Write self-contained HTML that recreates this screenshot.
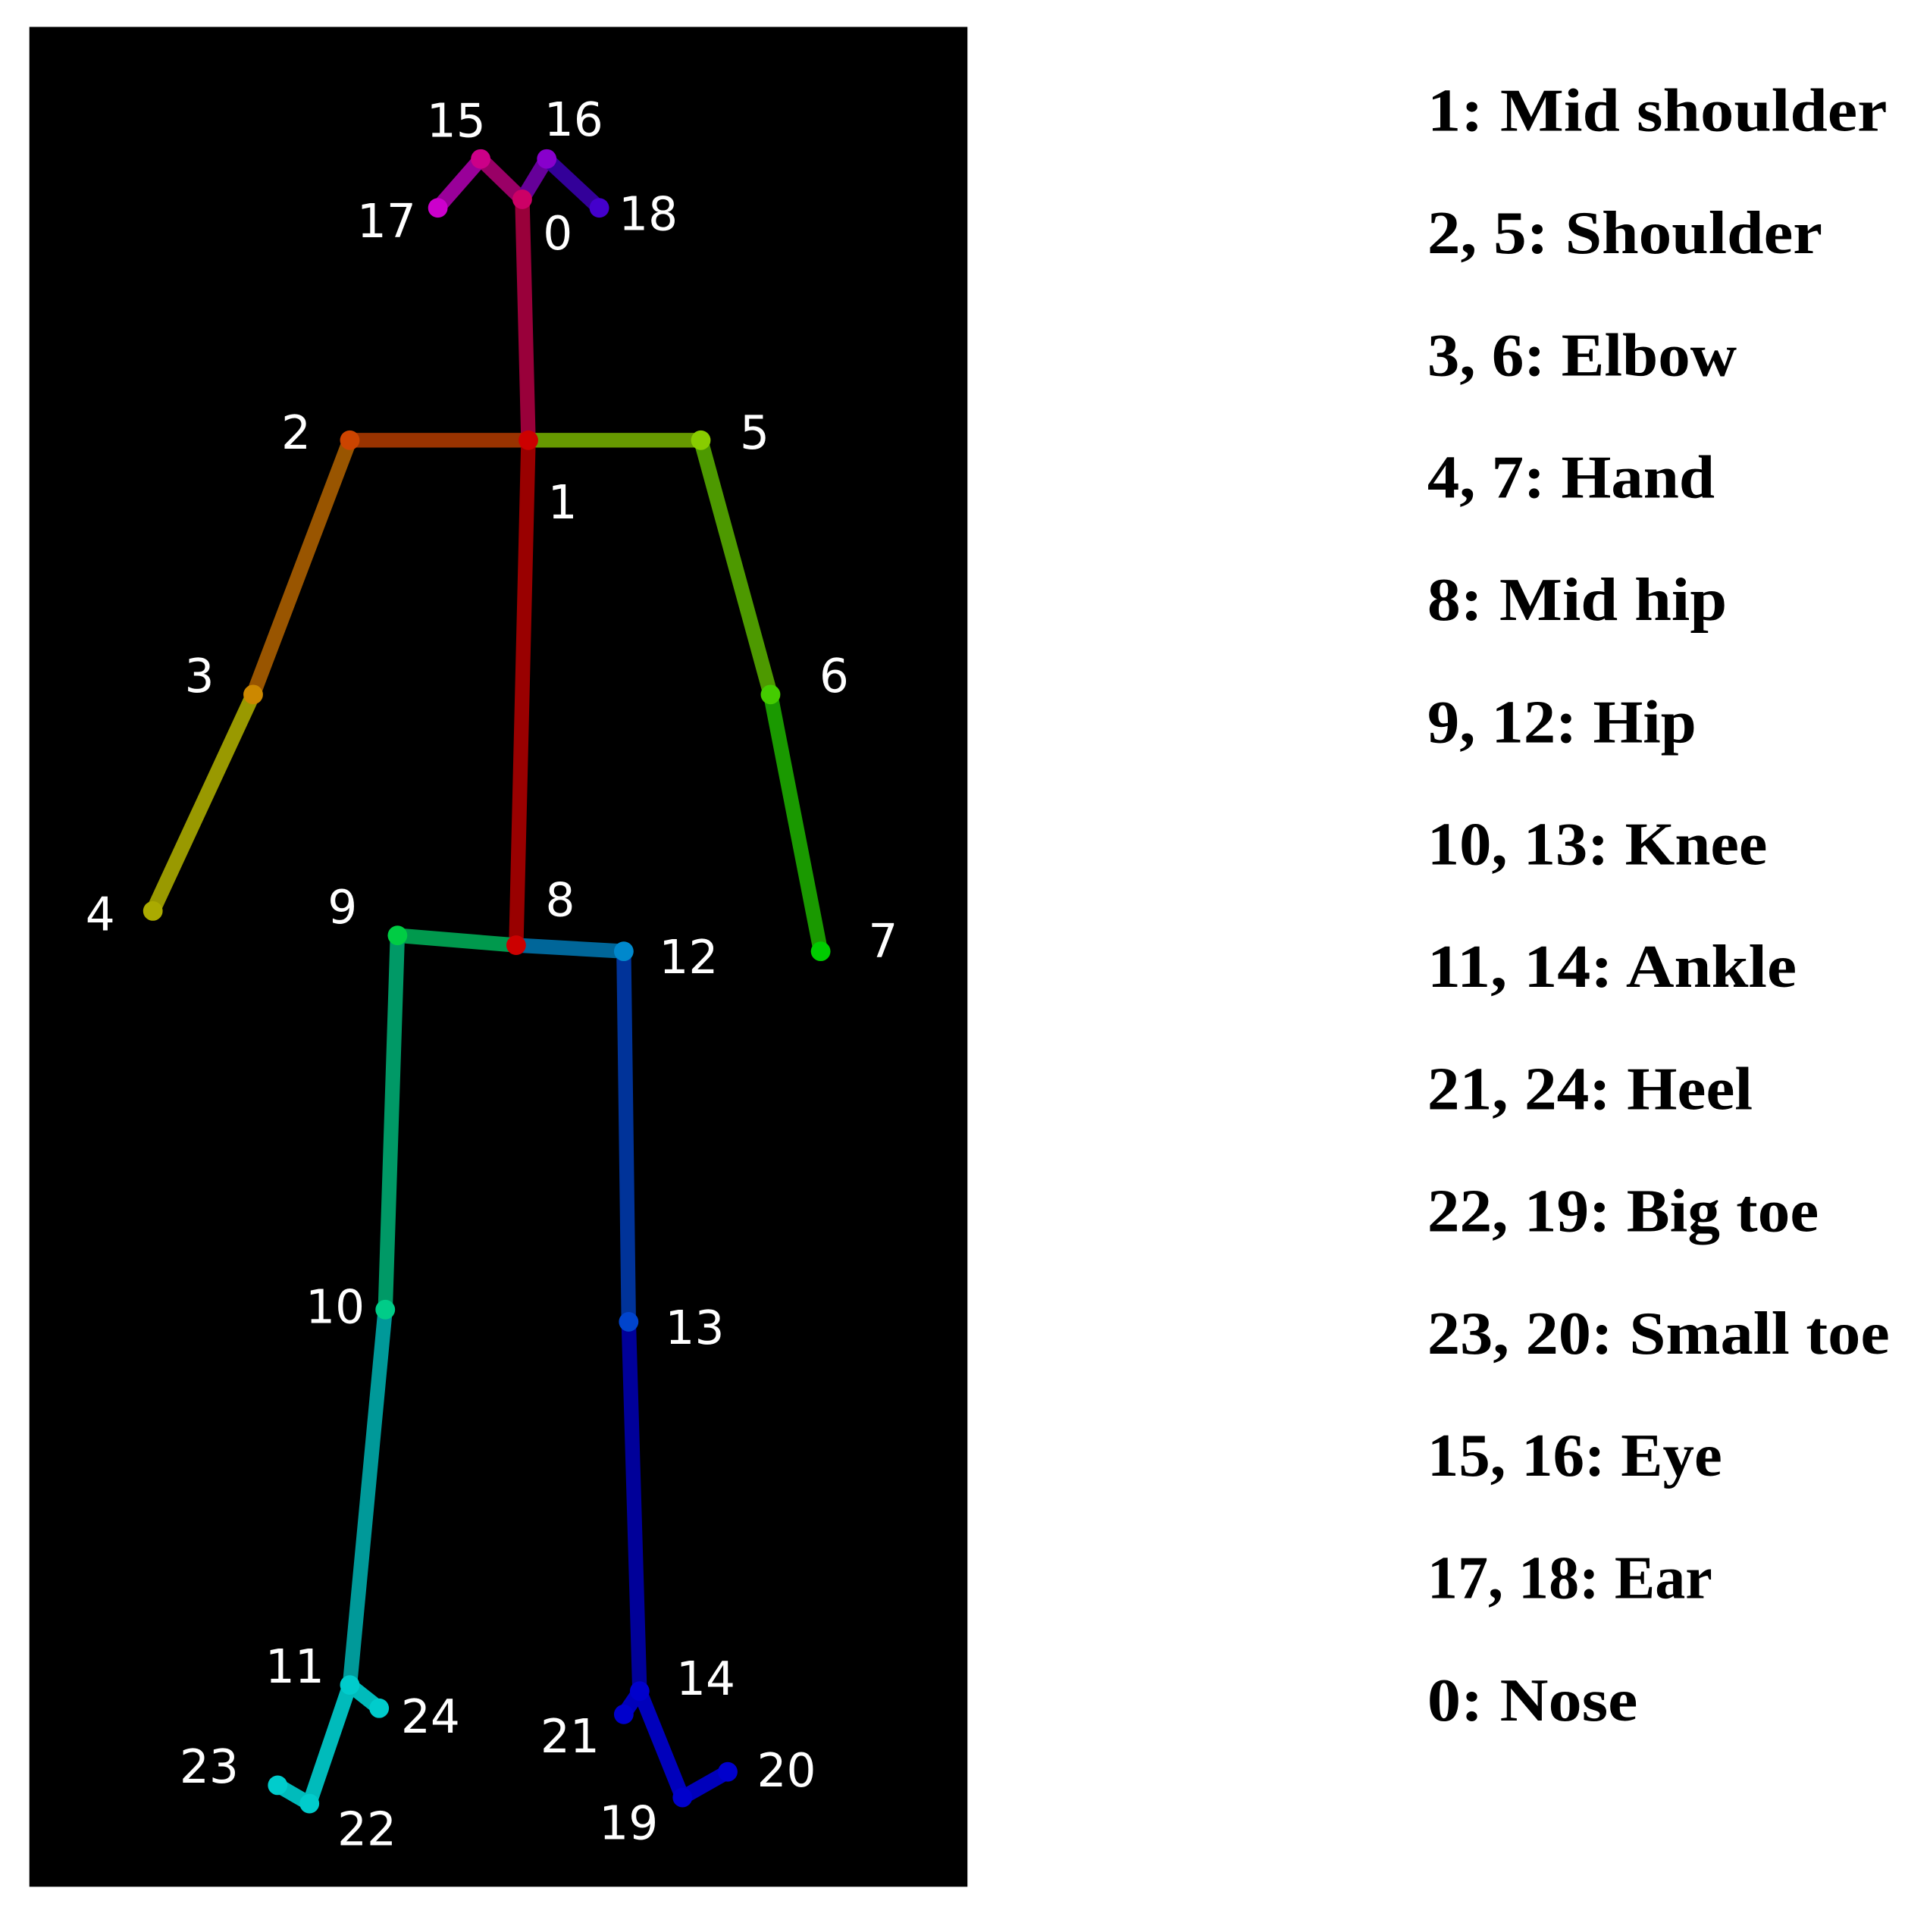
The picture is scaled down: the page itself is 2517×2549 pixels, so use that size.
<!DOCTYPE html>
<html><head><meta charset="utf-8"><style>
html,body{margin:0;padding:0;background:#fff;}
svg{display:block;}
</style></head><body>
<svg width="2517" height="2549" viewBox="0 0 1560 1580" preserveAspectRatio="none" xmlns="http://www.w3.org/2000/svg">
<rect x="0" y="0" width="1560" height="1580" fill="#fff"/>
<rect x="24" y="22" width="767" height="1521" fill="#000"/>
<g stroke-linecap="round" stroke-width="12" fill="none">
<line x1="427" y1="163" x2="432" y2="360" stroke="#99003a"/>
<line x1="432" y1="360" x2="286" y2="360" stroke="#993300"/>
<line x1="286" y1="360" x2="207" y2="568" stroke="#995500"/>
<line x1="207" y1="568" x2="125" y2="745" stroke="#999900"/>
<line x1="432" y1="360" x2="573" y2="360" stroke="#669900"/>
<line x1="573" y1="360" x2="630" y2="568" stroke="#4d9900"/>
<line x1="630" y1="568" x2="671" y2="778" stroke="#1a9900"/>
<line x1="432" y1="360" x2="422" y2="773" stroke="#990000"/>
<line x1="422" y1="773" x2="325" y2="765" stroke="#00994d"/>
<line x1="325" y1="765" x2="315" y2="1071" stroke="#009966"/>
<line x1="315" y1="1071" x2="286" y2="1378" stroke="#009999"/>
<line x1="422" y1="773" x2="510" y2="778" stroke="#006699"/>
<line x1="510" y1="778" x2="514" y2="1081" stroke="#003399"/>
<line x1="514" y1="1081" x2="523" y2="1383" stroke="#000099"/>
<line x1="427" y1="163" x2="393" y2="130" stroke="#990066"/>
<line x1="393" y1="130" x2="358" y2="170" stroke="#990099"/>
<line x1="427" y1="163" x2="447" y2="130" stroke="#660099"/>
<line x1="447" y1="130" x2="490" y2="170" stroke="#330099"/>
<line x1="523" y1="1383" x2="558" y2="1470" stroke="#0000bb"/>
<line x1="558" y1="1470" x2="595" y2="1449" stroke="#0000bb"/>
<line x1="523" y1="1383" x2="510" y2="1402" stroke="#0000bb"/>
<line x1="286" y1="1378" x2="253" y2="1475" stroke="#00bbbb"/>
<line x1="253" y1="1475" x2="227" y2="1460" stroke="#00bbbb"/>
<line x1="286" y1="1378" x2="310" y2="1397" stroke="#00bbbb"/>
</g>
<g>
<circle cx="427" cy="163" r="8" fill="#cc0066"/>
<circle cx="432" cy="360" r="8" fill="#cc0000"/>
<circle cx="286" cy="360" r="8" fill="#cc4400"/>
<circle cx="207" cy="568" r="8" fill="#cc8800"/>
<circle cx="125" cy="745" r="8" fill="#aaaa00"/>
<circle cx="573" cy="360" r="8" fill="#88cc00"/>
<circle cx="630" cy="568" r="8" fill="#44cc00"/>
<circle cx="671" cy="778" r="8" fill="#00cc00"/>
<circle cx="422" cy="773" r="8" fill="#cc0000"/>
<circle cx="325" cy="765" r="8" fill="#00cc44"/>
<circle cx="315" cy="1071" r="8" fill="#00cc88"/>
<circle cx="286" cy="1378" r="8" fill="#00cccc"/>
<circle cx="510" cy="778" r="8" fill="#0088cc"/>
<circle cx="514" cy="1081" r="8" fill="#0044cc"/>
<circle cx="523" cy="1383" r="8" fill="#0000cc"/>
<circle cx="393" cy="130" r="8" fill="#cc0088"/>
<circle cx="447" cy="130" r="8" fill="#8800cc"/>
<circle cx="358" cy="170" r="8" fill="#cc00cc"/>
<circle cx="490" cy="170" r="8" fill="#4400cc"/>
<circle cx="558" cy="1470" r="8" fill="#0000cc"/>
<circle cx="595" cy="1449" r="8" fill="#0000cc"/>
<circle cx="510" cy="1402" r="8" fill="#0000cc"/>
<circle cx="253" cy="1475" r="8" fill="#00cccc"/>
<circle cx="227" cy="1460" r="8" fill="#00cccc"/>
<circle cx="310" cy="1397" r="8" fill="#00cccc"/>
</g>
<g fill="#fff" font-family="DejaVu Sans, sans-serif" font-size="38" text-anchor="middle">
<text x="373" y="112">15</text>
<text x="469" y="111">16</text>
<text x="316" y="194">17</text>
<text x="456" y="204">0</text>
<text x="530" y="188">18</text>
<text x="242" y="367">2</text>
<text x="617" y="367">5</text>
<text x="460" y="424">1</text>
<text x="163" y="566">3</text>
<text x="682" y="566">6</text>
<text x="82" y="761">4</text>
<text x="280" y="755">9</text>
<text x="458" y="749">8</text>
<text x="563" y="796">12</text>
<text x="722" y="783">7</text>
<text x="274" y="1082">10</text>
<text x="568" y="1099">13</text>
<text x="241" y="1376">11</text>
<text x="352" y="1417">24</text>
<text x="577" y="1386">14</text>
<text x="466" y="1433">21</text>
<text x="171" y="1458">23</text>
<text x="300" y="1509">22</text>
<text x="643" y="1461">20</text>
<text x="514" y="1504">19</text>
</g>
<g fill="#000" font-family="Liberation Serif, serif" font-weight="bold" font-size="50" lengthAdjust="spacingAndGlyphs">
<text x="1167" y="107" textLength="376" lengthAdjust="spacingAndGlyphs">1: Mid shoulder</text>
<text x="1167" y="207" textLength="323" lengthAdjust="spacingAndGlyphs">2, 5: Shoulder</text>
<text x="1167" y="307" textLength="253" lengthAdjust="spacingAndGlyphs">3, 6: Elbow</text>
<text x="1167" y="407" textLength="235" lengthAdjust="spacingAndGlyphs">4, 7: Hand</text>
<text x="1167" y="507" textLength="245" lengthAdjust="spacingAndGlyphs">8: Mid hip</text>
<text x="1167" y="607" textLength="220" lengthAdjust="spacingAndGlyphs">9, 12: Hip</text>
<text x="1167" y="707" textLength="278" lengthAdjust="spacingAndGlyphs">10, 13: Knee</text>
<text x="1167" y="807" textLength="302" lengthAdjust="spacingAndGlyphs">11, 14: Ankle</text>
<text x="1167" y="907" textLength="266" lengthAdjust="spacingAndGlyphs">21, 24: Heel</text>
<text x="1167" y="1007" textLength="320" lengthAdjust="spacingAndGlyphs">22, 19: Big toe</text>
<text x="1167" y="1107" textLength="378" lengthAdjust="spacingAndGlyphs">23, 20: Small toe</text>
<text x="1167" y="1207" textLength="241" lengthAdjust="spacingAndGlyphs">15, 16: Eye</text>
<text x="1167" y="1307" textLength="233" lengthAdjust="spacingAndGlyphs">17, 18: Ear</text>
<text x="1167" y="1407" textLength="172" lengthAdjust="spacingAndGlyphs">0: Nose</text>
</g>
</svg>
</body></html>
